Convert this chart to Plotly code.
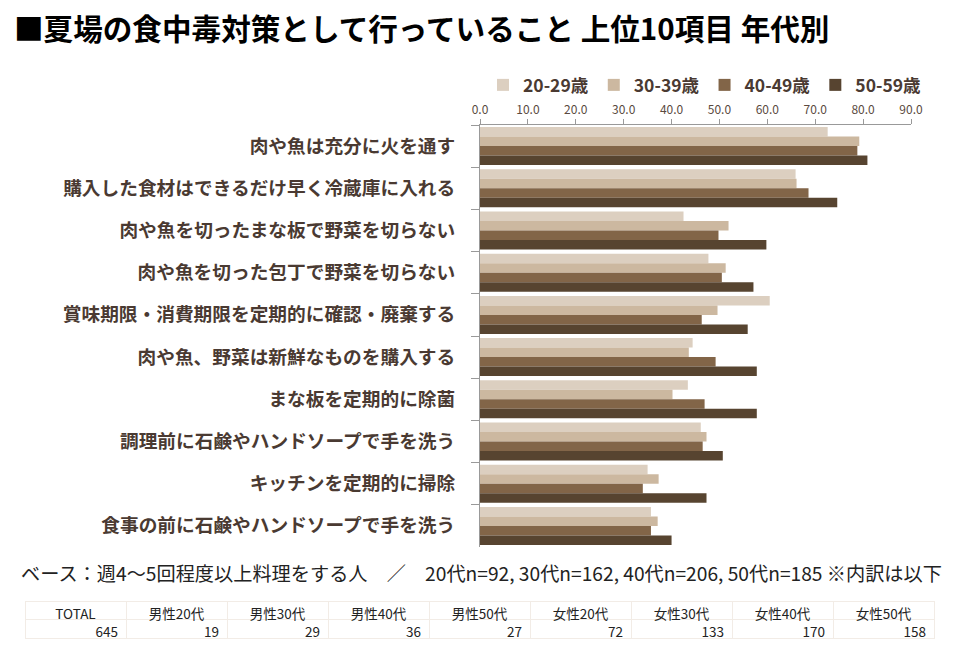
import plotly.graph_objects as go

categories = [
    "肉や魚は充分に火を通す",
    "購入した食材はできるだけ早く冷蔵庫に入れる",
    "肉や魚を切ったまな板で野菜を切らない",
    "肉や魚を切った包丁で野菜を切らない",
    "賞味期限・消費期限を定期的に確認・廃棄する",
    "肉や魚、野菜は新鮮なものを購入する",
    "まな板を定期的に除菌",
    "調理前に石鹸やハンドソープで手を洗う",
    "キッチンを定期的に掃除",
    "食事の前に石鹸やハンドソープで手を洗う",
]
series_names = ["20-29歳", "30-39歳", "40-49歳", "50-59歳"]
v20 = [72.6, 65.9, 42.5, 47.7, 60.5, 44.4, 43.4, 46.1, 35.0, 35.7]
v30 = [79.2, 66.1, 51.9, 51.3, 49.6, 43.6, 40.2, 47.3, 37.3, 37.1]
v40 = [78.8, 68.6, 49.8, 50.5, 46.3, 49.2, 46.9, 46.5, 34.0, 35.7]
v50 = [80.9, 74.6, 59.8, 57.1, 55.9, 57.8, 57.8, 50.7, 47.3, 40.0]
series_values = [v20, v30, v40, v50]
colors = ["#DCCFC0", "#CCB8A0", "#826548", "#574430"]

table_labels = ["TOTAL", "男性20代", "男性30代", "男性40代", "男性50代",
                "女性20代", "女性30代", "女性40代", "女性50代"]
table_counts = [645, 19, 29, 36, 27, 72, 133, 170, 158]

title_text = "■夏場の食中毒対策として行っていること 上位10項目 年代別"
base_text = "ベース：週4～5回程度以上料理をする人　／　20代n=92, 30代n=162, 40代n=206, 50代n=185 ※内訳は以下"

W, H = 960, 651
FONT = "Noto Sans CJK JP"

fig = go.Figure()
for name, vals, col in zip(series_names, series_values, colors):
    fig.add_trace(go.Bar(
        y=categories, x=vals, name=name, orientation="h",
        marker=dict(color=col, line=dict(width=0)),
    ))

fig.add_trace(go.Table(
    domain=dict(x=[25 / W, 934 / W], y=[1 - 645 / H, 1 - 601 / H]),
    columnwidth=[1] * len(table_labels),
    header=dict(values=table_labels, align="center", height=18,
                fill_color="white", line=dict(color="#F2ECE6", width=1),
                font=dict(family=FONT, size=13.5, color="#222222")),
    cells=dict(values=[[c] for c in table_counts], align="right", height=19,
               fill_color="white", line=dict(color="#F2ECE6", width=1),
               font=dict(family=FONT, size=13.5, color="#222222")),
))

fig.update_layout(
    width=W, height=H,
    margin=dict(l=0, r=0, t=0, b=0, autoexpand=False),
    paper_bgcolor="white", plot_bgcolor="white",
    barmode="group", bargap=0.1, bargroupgap=0,
    font=dict(family=FONT, color="#4A3A32"),
    showlegend=True,
    legend=dict(orientation="h", x=483 / W, y=1 - 67 / H, xanchor="left", yanchor="top",
                font=dict(family=FONT, size=17.5, color="#4A3A32", weight="bold"),
                traceorder="normal", itemwidth=30, tracegroupgap=0,
                bgcolor="rgba(0,0,0,0)"),
    xaxis=dict(domain=[480 / W, 911 / W], range=[0, 90], dtick=10, tickformat=".1f",
               side="top", showgrid=False, zeroline=False, automargin=False,
               showline=True, linecolor="#999999", linewidth=1,
               ticks="outside", ticklen=5, tickcolor="#999999",
               tickfont=dict(family=FONT, size=12, color="#5A4A40")),
    yaxis=dict(domain=[1 - 547 / H, 1 - 125 / H], autorange="reversed",
               showgrid=False, zeroline=False, automargin=False,
               showline=True, linecolor="#999999", linewidth=1,
               ticks="outside", tickson="boundaries", ticklen=8, tickcolor="#999999",
               ticklabelstandoff=20,
               tickfont=dict(family=FONT, size=18.7, color="#4A3A32", weight="bold")),
    annotations=[
        dict(text=title_text, x=12 / W, y=1 - 28 / H, xref="paper", yref="paper",
             xanchor="left", yanchor="middle", showarrow=False,
             font=dict(family=FONT, size=29.6, color="#000000", weight="bold")),
        dict(text=base_text, x=19 / W, y=1 - 573 / H, xref="paper", yref="paper",
             xanchor="left", yanchor="middle", showarrow=False,
             font=dict(family=FONT, size=19.2, color="#222222")),
    ],
)

fig.write_html("out.html")
